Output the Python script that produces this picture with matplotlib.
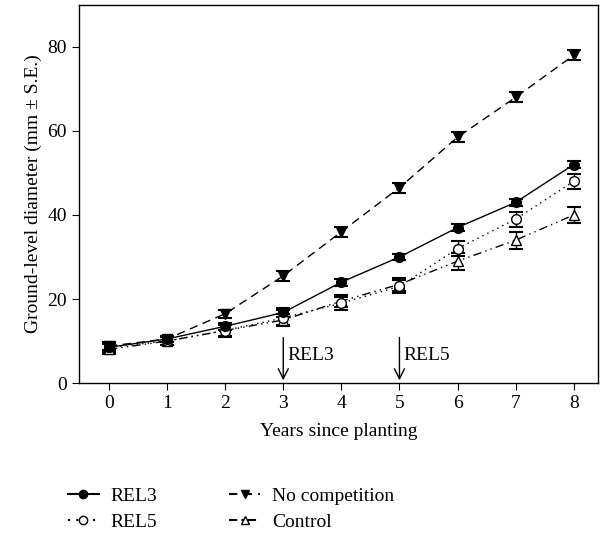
import matplotlib
matplotlib.use("Agg")
import matplotlib.pyplot as plt
from matplotlib.lines import Line2D

plt.rcParams['font.family'] = ['Liberation Serif', 'DejaVu Serif']

years = [0, 1, 2, 3, 4, 5, 6, 7, 8]

rel3 = [8.5, 10.5, 13.5, 16.8, 24.0, 30.0, 37.0, 43.0, 52.0]
rel3_se = [1.0, 0.8, 0.8, 1.0, 0.8, 0.8, 0.8, 0.8, 0.8]

no_comp = [8.8, 10.5, 16.5, 25.5, 36.0, 46.5, 58.5, 68.0, 78.0]
no_comp_se = [1.0, 0.8, 1.0, 1.2, 1.2, 1.2, 1.2, 1.2, 1.2]

rel5 = [8.5, 10.0, 12.5, 15.5, 19.0, 23.0, 32.0, 39.0, 48.0]
rel5_se = [1.2, 1.0, 1.5, 1.8, 1.5, 1.5, 1.8, 1.8, 1.8]

control = [8.0, 10.0, 12.5, 15.0, 19.5, 23.5, 29.0, 34.0, 40.0]
control_se = [1.2, 1.0, 1.2, 1.5, 1.5, 1.5, 2.0, 2.0, 2.0]

release_years = [3, 5]
release_labels = ['REL3', 'REL5']

fig = plt.figure(figsize=(6.06, 5.35), dpi=100)
ax = fig.add_axes([0.130, 0.284, 0.857, 0.707])

kw = dict(color='black', capsize=5, elinewidth=1, capthick=1.5,
          markersize=7, linewidth=1)
ax.errorbar(years, control, yerr=control_se, fmt='^', markerfacecolor='white',
            linestyle=(0, (6, 3, 1, 3, 1, 3)), **kw)
ax.errorbar(years, rel5, yerr=rel5_se, fmt='o', markerfacecolor='white',
            linestyle=(0, (1, 3)), **kw)
ax.errorbar(years, no_comp, yerr=no_comp_se, fmt='v', markerfacecolor='black',
            linestyle=(0, (6, 4)), **kw)
ax.errorbar(years, rel3, yerr=rel3_se, fmt='o', markerfacecolor='black',
            linestyle='-', **kw)

# release arrows
for yr, lab in zip(release_years, release_labels):
    ax.annotate('', xy=(yr, 0), xytext=(yr, 11.5),
                arrowprops=dict(arrowstyle='->', color='black', lw=1,
                                mutation_scale=18))
    ax.text(yr + 0.07, 6.5, lab, fontsize=14, va='center', ha='left')

ax.set_xlim(-0.52, 8.42)
ax.set_ylim(0, 90)
ax.set_xticks(years)
ax.set_yticks([0, 20, 40, 60, 80])
ax.tick_params(axis='both', labelsize=14, direction='out', length=5,
               top=False, right=False)
ax.set_xlabel('Years since planting', fontsize=14, labelpad=8)
ax.set_ylabel('Ground-level diameter (mm ± S.E.)', fontsize=14)
for s in ax.spines.values():
    s.set_linewidth(1)

handles = [
    Line2D([], [], color='black', linestyle='-', marker='o', markersize=6,
           markerfacecolor='black'),
    Line2D([], [], color='black', linestyle=(0, (1, 3)), marker='o',
           markersize=6, markerfacecolor='white'),
    Line2D([], [], color='black', linestyle=(0, (4, 3)), marker='v',
           markersize=6, markerfacecolor='black'),
    Line2D([], [], color='black', linestyle=(0, (4, 2, 1, 2)), marker='^',
           markersize=6, markerfacecolor='white'),
]
labels = ['REL3', 'REL5', 'No competition', 'Control']
fig.legend(handles, labels, loc='lower left', bbox_to_anchor=(0.083, -0.025),
           ncol=2, frameon=False, fontsize=14, handlelength=1.6,
           columnspacing=3.7, labelspacing=0.45, handletextpad=0.6)

fig.savefig('out.png', dpi=100)
